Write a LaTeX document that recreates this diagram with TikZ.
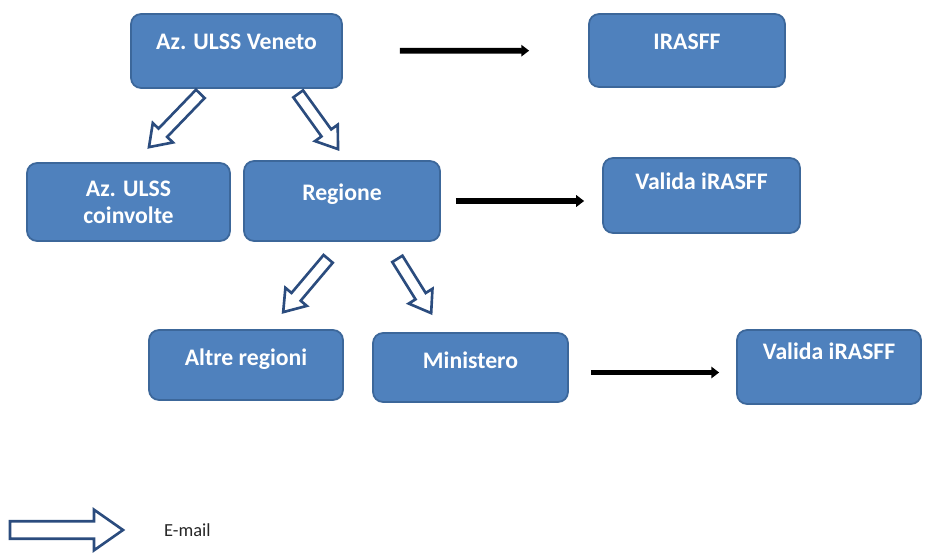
\documentclass[tikz,border=0pt]{standalone}
\usepackage{fontspec}
\setmainfont{Carlito}
\usetikzlibrary{calc}
\usetikzlibrary{arrows.meta}

\definecolor{blu}{HTML}{4F81BD}
\definecolor{bordo}{HTML}{3C679A}
\definecolor{contorno}{HTML}{2B4C7E}

\tikzset{
  blocco/.style={rectangle, rounded corners=0.2cm, fill=blu, draw=bordo, line width=1pt,
    text=white, font=\bfseries\fontsize{13.5}{15.5}\selectfont, align=center, inner sep=0pt},
  alto/.style 2 args={text height=#1, text depth=#2},
  freccia/.style={-{Triangle[length=4.5pt,width=6.5pt]}, line width=3.3pt},
}

% freccia cava (e-mail), #1 = scala
\newcommand{\cava}[3][1]{%
  \coordinate (h) at ($(#3)!#1*0.40cm!(#2)$);
  \draw[contorno, line width=1.5pt, fill=white]
    ($(#2)!#1*0.12cm!90:(#3)$) -- ($(h)!#1*0.12cm!90:(#3)$) -- ($(h)!#1*0.28cm!90:(#3)$) -- (#3)
    -- ($(h)!#1*0.28cm!-90:(#3)$) -- ($(h)!#1*0.12cm!-90:(#3)$) -- ($(#2)!#1*0.12cm!-90:(#3)$) -- cycle;
}

\begin{document}
\begin{tikzpicture}[x=0.02cm, y=-0.02cm]
\useasboundingbox (0,0) rectangle (925,554);

\node[blocco, alto={0.70cm}{0.78cm}, minimum width=4.22cm] (veneto) at (236.5,51) {Az. ULSS Veneto};
\node[blocco, alto={0.70cm}{0.76cm}, minimum width=3.92cm] (irasff) at (687,50.5) {IRASFF};
\node[blocco, minimum width=4.06cm, minimum height=1.56cm] (coinvolte) at (128.5,202) {Az. ULSS\\coinvolte};
\node[blocco, alto={0.78cm}{0.82cm}, minimum width=3.92cm] (regione) at (342,201) {Regione};
\node[blocco, alto={0.62cm}{0.88cm}, minimum width=3.94cm] (valida1) at (701.5,195.5) {Valida iRASFF};
\node[blocco, alto={0.70cm}{0.70cm}, minimum width=3.88cm] (altre) at (246,365) {Altre regioni};
\node[blocco, alto={0.70cm}{0.68cm}, minimum width=3.90cm] (ministero) at (470.5,367.5) {Ministero};
\node[blocco, alto={0.58cm}{0.90cm}, minimum width=3.68cm] (valida2) at (829,367) {Valida iRASFF};

% invio al sistema
\draw[freccia, shorten <=1.14cm, shorten >=1.18cm] (veneto) -- (irasff);
\draw[freccia, shorten <=0.30cm, shorten >=0.36cm] (regione) -- (regione -| valida1.west);
\draw[freccia, shorten <=0.44cm, shorten >=0.34cm]
  ([yshift=-0.1cm]ministero.east) -- ([yshift=-0.1cm]ministero.east -| valida2.west);

% e-mail
\coordinate (a1) at ($(veneto.south west)!0.33!(veneto.south east)+(0,5)$);
\coordinate (b1) at ($(coinvolte.north west)!0.60!(coinvolte.north east)+(0,-15)$);
\coordinate (a2) at ($(veneto.south west)!0.79!(veneto.south east)+(0,5)$);
\coordinate (b2) at ($(regione.north west)!0.48!(regione.north east)+(0,-11)$);
\coordinate (a3) at ($(regione.south west)!0.43!(regione.south east)+(0,17)$);
\coordinate (b3) at ($(altre.north west)!0.69!(altre.north east)+(0,-17)$);
\coordinate (a4) at ($(regione.south west)!0.78!(regione.south east)+(0,17)$);
\coordinate (b4) at ($(ministero.north west)!0.30!(ministero.north east)+(0,-19)$);
\foreach \a/\b in {a1/b1, a2/b2, a3/b3, a4/b4} {
  \cava{\a}{\b}
}

% legenda
\node[font=\fontsize{10.5}{12}\selectfont, text=black!85, anchor=west] (email) at (158,530) {E-mail};
\coordinate (l1) at (10,530);
\coordinate (l2) at ($(email.west)+(-35,0)$);
\cava[1.45]{l1}{l2}
\end{tikzpicture}
\end{document}
